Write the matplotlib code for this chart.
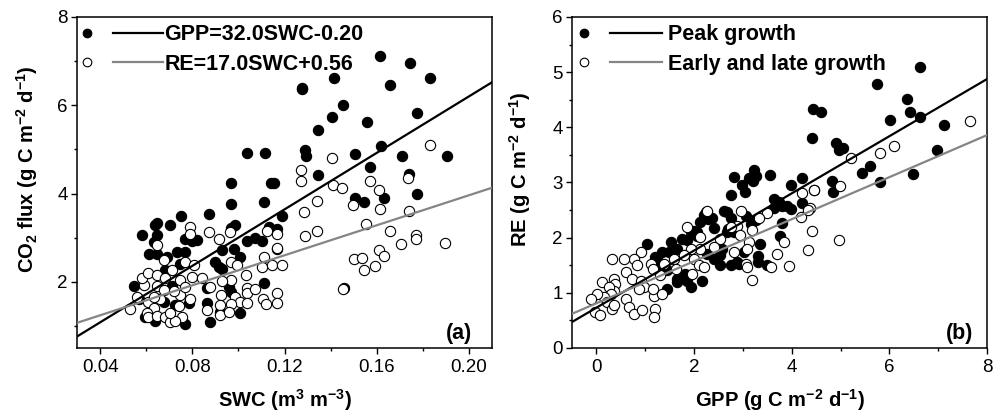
import numpy as np
import matplotlib
matplotlib.use("Agg")
import matplotlib.pyplot as plt
from matplotlib.lines import Line2D
from matplotlib.legend_handler import HandlerBase
from matplotlib.ticker import MultipleLocator, FormatStrFormatter

plt.rcParams['font.family'] = ['Liberation Sans', 'DejaVu Sans']
plt.rcParams['mathtext.fontset'] = 'custom'
plt.rcParams['mathtext.rm'] = 'Liberation Sans:bold'
plt.rcParams['mathtext.bf'] = 'Liberation Sans:bold'
plt.rcParams['mathtext.it'] = 'Liberation Sans:bold'

# ---------------- Panel (a): CO2 flux vs SWC ----------------
gpp_swc = [0.1275, 0.1278, 0.1614, 0.1745, 0.1413, 0.1659, 0.1832, 0.1453, 0.1405, 0.1344,
           0.1559, 0.1775, 0.1038, 0.1117, 0.1288, 0.1292, 0.1504, 0.1619, 0.1710, 0.1903,
           0.1346, 0.1573, 0.1742, 0.0966, 0.1143, 0.1154, 0.1775, 0.0966, 0.1109, 0.1505,
           0.1546, 0.1633, 0.0871, 0.0751, 0.1191, 0.0647, 0.0640, 0.0705, 0.0987, 0.0966,
           0.0581, 0.0647, 0.1133, 0.1169, 0.0770, 0.0799, 0.0821, 0.0632, 0.1038, 0.1074,
           0.1104, 0.0611, 0.0647, 0.0734, 0.0770, 0.0929, 0.0980, 0.1009, 0.1169, 0.0690,
           0.0900, 0.0915, 0.0929, 0.0683, 0.0748, 0.0545, 0.0712, 0.0958, 0.0966, 0.1111,
           0.1459, 0.0864, 0.0567, 0.0864, 0.0784, 0.0726, 0.0676, 0.0596, 0.0640, 0.0767,
           0.0877, 0.1009, 0.0922]
gpp_flux = [6.40, 6.36, 7.11, 6.96, 6.61, 6.46, 6.61, 6.00, 5.74, 5.44,
            5.61, 5.82, 4.92, 4.92, 4.98, 4.85, 4.90, 5.07, 4.86, 4.86,
            4.43, 4.59, 4.45, 4.23, 4.23, 4.23, 3.99, 3.77, 3.81, 3.90,
            3.81, 3.90, 3.54, 3.49, 3.49, 3.34, 3.28, 3.28, 3.28, 3.22,
            3.05, 3.05, 3.24, 3.20, 2.98, 2.92, 2.94, 2.90, 2.92, 2.99,
            2.92, 2.64, 2.64, 2.68, 2.68, 2.71, 2.75, 2.56, 2.75, 2.56,
            2.45, 2.34, 2.30, 2.26, 2.41, 1.91, 1.91, 1.89, 1.77, 1.98,
            1.85, 1.85, 1.62, 1.53, 1.51, 1.47, 1.55, 1.21, 1.10, 1.04,
            1.08, 1.29, 1.32]

re_swc = [0.1832, 0.1406, 0.1272, 0.1272, 0.1410, 0.1449, 0.1571, 0.1610, 0.1736, 0.1341,
          0.1285, 0.1497, 0.1614, 0.1740, 0.1553, 0.1658, 0.1341, 0.1289, 0.1705, 0.1770,
          0.1770, 0.1896, 0.1501, 0.1536, 0.1545, 0.1593, 0.1610, 0.1632, 0.1454,
          0.0792, 0.0789, 0.0871, 0.0962, 0.0918, 0.0647, 0.1125, 0.1169, 0.1169, 0.0676,
          0.0712, 0.0770, 0.0806, 0.0799, 0.0842, 0.0748, 0.0966, 0.0994, 0.0966, 0.0929,
          0.1104, 0.1147, 0.1191, 0.1111, 0.1031, 0.1038, 0.1038, 0.1074, 0.1107, 0.1119,
          0.1169, 0.1169, 0.0878, 0.0926, 0.0987, 0.1009, 0.1038, 0.0919, 0.0919, 0.0966,
          0.0958, 0.0864, 0.0792, 0.0748, 0.0741, 0.0755, 0.0531, 0.0560, 0.0589, 0.0581,
          0.0610, 0.0647, 0.0647, 0.0683, 0.0610, 0.0632, 0.0604, 0.0610, 0.0647, 0.0683,
          0.0705, 0.0726, 0.0705, 0.0661, 0.0632, 0.0676, 0.0719, 0.0770]
re_flux = [5.10, 4.81, 4.54, 4.29, 4.20, 4.13, 4.29, 4.09, 4.36, 3.84,
           3.59, 3.73, 3.64, 3.61, 3.32, 3.16, 3.16, 3.03, 2.85, 3.05,
           2.96, 2.87, 2.51, 2.55, 2.26, 2.35, 2.71, 2.58, 1.83,
           3.24, 3.09, 3.13, 3.13, 2.96, 2.83, 3.16, 3.09, 2.77, 2.49,
           2.26, 2.45, 2.38, 2.11, 2.09, 2.04, 2.45, 2.38, 2.04, 2.02,
           2.34, 2.38, 2.39, 2.56, 2.15, 1.86, 1.74, 1.83, 1.62, 1.49,
           1.74, 1.51, 1.89, 1.70, 1.66, 1.55, 1.53, 1.47, 1.25, 1.49,
           1.32, 1.36, 1.62, 1.70, 1.46, 1.21, 1.38, 1.66, 1.92, 2.08,
           2.19, 2.15, 1.91, 2.08, 1.55, 1.40, 1.29, 1.21, 1.23, 1.21,
           1.08, 1.10, 1.29, 1.62, 1.66, 1.81, 1.78, 1.89]

gpp_slope, gpp_icpt = 32.0, -0.20
re_slope, re_icpt = 17.0, 0.56
label_gpp = 'GPP=32.0SWC-0.20'
label_re = 'RE=17.0SWC+0.56'

# ---------------- Panel (b): RE vs GPP ----------------
peak_gpp = [6.63, 5.74, 6.37, 6.43, 6.63, 7.11, 6.01, 4.44, 4.61, 4.42, 4.90, 4.97, 5.06, 6.97,
            5.45, 5.61, 5.81, 6.48, 4.83, 4.85, 4.22, 3.98, 3.56, 2.82, 2.99, 3.04, 2.75, 3.12,
            3.22, 3.26, 3.21, 3.64, 3.80, 3.91, 4.22, 3.98, 3.74, 3.64, 3.80, 3.76, 3.36, 3.30,
            3.50, 3.26, 3.06, 2.75, 2.68, 2.82, 2.68, 2.41, 2.37, 2.20, 2.13, 1.93, 2.07, 1.76,
            1.86, 1.65, 1.52, 1.48, 1.35, 1.24, 1.20, 1.18, 1.31, 1.45, 1.04, 1.45, 1.65, 1.65,
            1.82, 1.86, 1.93, 2.17, 2.27, 2.41, 2.54, 2.58, 2.75, 2.92, 3.30, 2.54, 3.02, 2.61,
            2.24, 2.28, 2.69, 3.16, 1.99, 2.07, 2.89]
peak_re = [5.10, 4.78, 4.52, 4.27, 4.19, 4.05, 4.13, 4.34, 4.27, 3.80, 3.71, 3.59, 3.63, 3.59,
           3.17, 3.29, 3.01, 3.15, 3.03, 2.83, 3.09, 2.96, 3.13, 3.10, 2.96, 2.83, 2.78, 3.09,
           3.23, 3.12, 3.03, 2.70, 2.58, 2.58, 2.63, 2.52, 2.64, 2.54, 2.27, 2.03, 1.89, 1.67,
           1.50, 2.32, 2.39, 2.35, 2.10, 2.10, 2.47, 2.18, 2.35, 2.41, 2.28, 2.10, 2.10, 1.98,
           1.95, 1.80, 1.92, 1.74, 1.74, 1.62, 1.65, 1.50, 1.50, 1.41, 1.89, 1.07, 1.25, 1.19,
           1.35, 1.22, 1.10, 1.22, 1.71, 1.62, 1.68, 1.80, 1.50, 1.53, 1.56, 1.50, 1.74, 2.48,
           2.46, 2.33, 2.15, 2.24, 2.12, 2.03, 1.55]

el_gpp = [7.65, 6.10, 5.81, 5.21, 4.98, 4.46, 4.22, 4.38, 2.27, 2.97, 4.96, 4.42, 4.34, 3.95,
          3.84, 3.70, 3.57, 3.19, 3.50, 3.33, 3.19, 3.12, 3.09, 2.89, 2.95, 3.06, 3.09, 2.82,
          2.75, 2.54, 2.41, 2.13, 2.13, 2.00, 2.10, 2.20, 1.93, 1.96, 1.79, 1.59, 1.62, 1.38,
          1.31, 1.11, 1.15, 0.91, 0.77, 0.83, 0.60, 0.56, 0.32, 0.73, 0.91, 0.97, 0.36, 0.39,
          0.36, 0.12, 0.25, 0.29, 0.15, 0.01, -0.12, -0.02, 0.08, 0.22, 0.32, 0.36, 0.60, 0.66,
          0.77, 0.94, 1.18, 1.21, 1.18, 1.35, 1.15, 0.87, 1.86, 4.20, 4.34, 4.45]
el_re = [4.11, 3.66, 3.53, 3.45, 2.93, 2.87, 2.81, 2.53, 2.49, 2.49, 1.95, 2.12, 1.78, 1.48,
         1.92, 1.71, 1.47, 1.24, 2.44, 2.35, 2.13, 1.92, 1.80, 2.22, 2.04, 1.53, 1.47, 1.74,
         2.19, 1.98, 1.83, 2.01, 1.80, 1.62, 1.50, 1.47, 1.80, 1.35, 1.68, 1.62, 1.44, 1.53,
         1.32, 1.53, 1.44, 1.74, 1.62, 1.50, 1.38, 1.62, 1.62, 1.25, 1.22, 1.10, 1.25, 1.16,
         1.04, 1.19, 1.10, 0.98, 0.92, 0.98, 0.89, 0.65, 0.59, 0.83, 0.71, 0.77, 0.89, 0.74,
         0.62, 0.68, 0.95, 0.71, 0.56, 0.98, 1.07, 1.07, 2.19, 2.38, 2.50, 2.86]

peak_slope, peak_icpt = 0.518, 0.73
el_slope, el_icpt = 0.381, 0.81
label_peak = 'Peak growth'
label_el = 'Early and late growth'

GRAY = '#858585'
MS = 7.4
S = MS ** 2
LEG_MS = 6.2
LEG_FS = 15.5


class HandlerMarkLine(HandlerBase):
    def __init__(self, mfrac, lstart, **kw):
        super().__init__(**kw)
        self.mfrac = mfrac
        self.lstart = lstart

    def create_artists(self, legend, orig_handle, xdescent, ydescent, width, height,
                       fontsize, trans):
        sc, ln = orig_handle
        y = height / 2 - ydescent
        fc = sc.get_facecolor()[0]
        m = Line2D([-xdescent + self.mfrac * width], [y], marker='o', ms=LEG_MS, ls='none',
                   mfc=fc, mec='black', mew=0.8)
        l = Line2D([-xdescent + self.lstart * width, -xdescent + width], [y, y],
                   color=ln.get_color(), lw=ln.get_linewidth())
        m.set_transform(trans)
        l.set_transform(trans)
        return [m, l]


fig = plt.figure(figsize=(10.03, 4.19), dpi=100)
ax1 = fig.add_axes([0.0768, 0.1695, 0.4137, 0.79])
ax2 = fig.add_axes([0.5703, 0.1695, 0.4137, 0.79])

for ax in (ax1, ax2):
    for sp in ax.spines.values():
        sp.set_linewidth(1.1)
    ax.tick_params(which='both', direction='out', top=False, right=False,
                   labelsize=13.5, width=1.0)
    ax.tick_params(which='major', length=4.2, pad=3.5)
    ax.tick_params(which='minor', length=2.5)
    ax.tick_params(axis='y', which='major', pad=2.5)

# Panel (a)
ax1.set_xlim(0.03, 0.21)
ax1.set_ylim(0.5, 8)
s1 = ax1.scatter(gpp_swc, gpp_flux, s=S, c='black', edgecolors='black', linewidths=0.8, zorder=2)
s2 = ax1.scatter(re_swc, re_flux, s=S, c='white', edgecolors='black', linewidths=0.8, zorder=3)
xs = np.array(ax1.get_xlim())
l1, = ax1.plot(xs, gpp_slope * xs + gpp_icpt, color='black', lw=1.6, zorder=4)
l2, = ax1.plot(xs, re_slope * xs + re_icpt, color=GRAY, lw=1.6, zorder=4)
ax1.xaxis.set_major_locator(MultipleLocator(0.04))
ax1.xaxis.set_minor_locator(MultipleLocator(0.02))
ax1.xaxis.set_major_formatter(FormatStrFormatter('%.2f'))
ax1.yaxis.set_major_locator(MultipleLocator(2))
ax1.yaxis.set_minor_locator(MultipleLocator(1))
ax1.set_xlabel(r'SWC (m$^{3}$ m$^{-3}$)', fontsize=14.5, fontweight='bold', labelpad=8)
ax1.set_ylabel(r'CO$_{2}$ flux (g C m$^{-2}$ d$^{-1}$)', fontsize=14.5, fontweight='bold')
ax1.yaxis.set_label_coords(-0.089, 0.54)
ax1.text(0.952, 0.028, '(a)', transform=ax1.transAxes, ha='right', va='baseline',
         fontsize=15.5, fontweight='bold')
ax1.legend([(s1, l1), (s2, l2)], [label_gpp, label_re], loc='upper left',
           bbox_to_anchor=(0, 0.991), borderaxespad=0, borderpad=0.2, frameon=False,
           handlelength=3.8, handletextpad=0.05, labelspacing=0.39,
           prop={'weight': 'bold', 'size': LEG_FS},
           handler_map={tuple: HandlerMarkLine(0.07, 0.39)})

# Panel (b)
ax2.set_xlim(-0.5, 8)
ax2.set_ylim(0, 6)
s3 = ax2.scatter(peak_gpp, peak_re, s=S, c='black', edgecolors='black', linewidths=0.8, zorder=2)
s4 = ax2.scatter(el_gpp, el_re, s=S, c='white', edgecolors='black', linewidths=0.8, zorder=3)
xs2 = np.array(ax2.get_xlim())
l3, = ax2.plot(xs2, peak_slope * xs2 + peak_icpt, color='black', lw=1.6, zorder=4)
l4, = ax2.plot(xs2, el_slope * xs2 + el_icpt, color=GRAY, lw=1.6, zorder=4)
ax2.xaxis.set_major_locator(MultipleLocator(2))
ax2.xaxis.set_minor_locator(MultipleLocator(1))
ax2.yaxis.set_major_locator(MultipleLocator(1))
ax2.yaxis.set_minor_locator(MultipleLocator(0.5))
ax2.set_xlabel(r'GPP (g C m$^{-2}$ d$^{-1}$)', fontsize=14.5, fontweight='bold', labelpad=8)
ax2.set_ylabel(r'RE (g C m$^{-2}$ d$^{-1}$)', fontsize=14.5, fontweight='bold')
ax2.yaxis.set_label_coords(-0.094, 0.54)
ax2.text(0.966, 0.028, '(b)', transform=ax2.transAxes, ha='right', va='baseline',
         fontsize=15.5, fontweight='bold')
ax2.legend([(s3, l3), (s4, l4)], [label_peak, label_el], loc='upper left',
           bbox_to_anchor=(0, 0.991), borderaxespad=0, borderpad=0.2, frameon=False,
           handlelength=3.99, handletextpad=0.28, labelspacing=0.39,
           prop={'weight': 'bold', 'size': LEG_FS},
           handler_map={tuple: HandlerMarkLine(0.09, 0.393)})

fig.savefig('out.png', dpi=100)
